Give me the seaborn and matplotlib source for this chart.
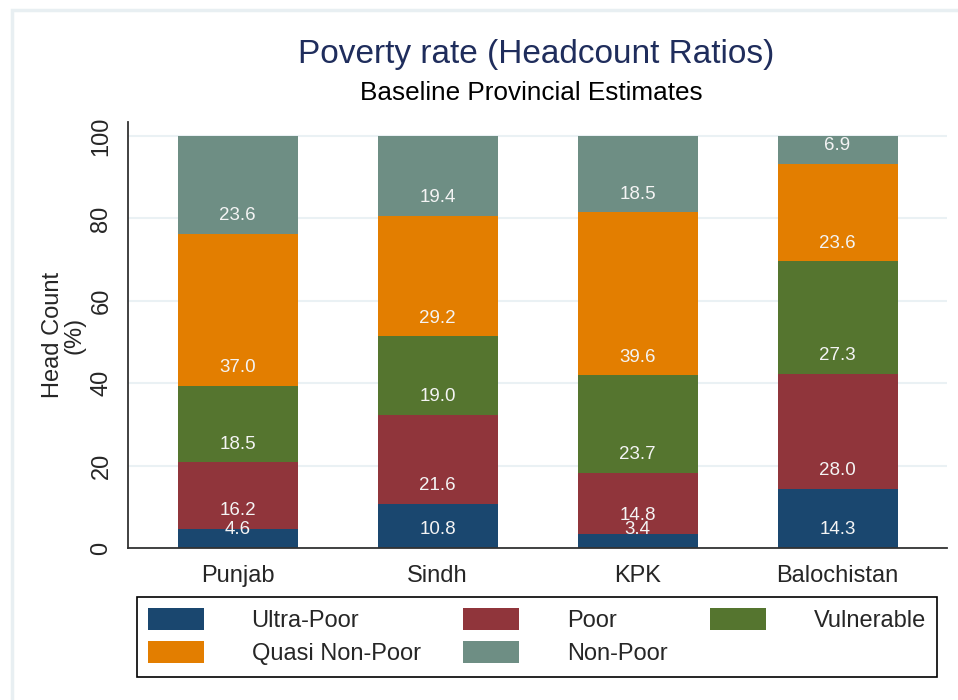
import matplotlib
matplotlib.use("Agg")
import matplotlib.pyplot as plt
import seaborn as sns
import numpy as np
from matplotlib.patches import Patch, Rectangle

provinces = ['Punjab', 'Sindh', 'KPK', 'Balochistan']
groups = ['Ultra-Poor', 'Poor', 'Vulnerable', 'Quasi Non-Poor', 'Non-Poor']
ultra_poor = [4.6, 10.8, 3.4, 14.3]
poor = [16.2, 21.6, 14.8, 28.0]
vulnerable = [18.5, 19.0, 23.7, 27.3]
quasi_non_poor = [37.0, 29.2, 39.6, 23.6]
non_poor = [23.6, 19.4, 18.5, 6.9]
colors = ['#1a476f', '#90353b', '#55752f', '#e37e00', '#6e8e84']

series = [ultra_poor, poor, vulnerable, quasi_non_poor, non_poor]
cum = np.cumsum(np.array(series), axis=0)

sns.set_style('white')
plt.rcParams['font.family'] = ['Liberation Sans', 'DejaVu Sans']

fig = plt.figure(figsize=(9.58, 7), dpi=100)
ax = fig.add_axes([128/958, 1 - 548/700, (947-128)/958, (548-122)/700])

# stacked bars: draw tallest cumulative first, shorter ones on top
for i in range(len(groups) - 1, -1, -1):
    sns.barplot(x=provinces, y=cum[i], color=colors[i], width=0.6,
                saturation=1, errorbar=None, linewidth=0, ax=ax, zorder=2)

# value labels near the bottom of each segment
for i, vals in enumerate(series):
    base = cum[i] - np.array(vals)
    for j, v in enumerate(vals):
        ax.text(j, base[j] + 4.4, f'{v:.1f}', ha='center', va='center',
                color='#f4f4f4', fontsize=13.5, zorder=3)

ax.set_xlim(-0.5475, 3.5475)
ax.set_ylim(0, 103.4)
ax.set_yticks([0, 20, 40, 60, 80, 100])
ax.set_yticklabels(['0', '20', '40', '60', '80', '100'], rotation=90, va='center', fontsize=17)
ax.tick_params(axis='y', length=7.2, width=1.2, pad=4, color='#333333')
ax.tick_params(axis='x', length=0, pad=12, labelsize=17)
ax.yaxis.grid(True, color='#eaf1f4', linewidth=1.5, zorder=0)
ax.set_axisbelow(True)
for s in ['top', 'right']:
    ax.spines[s].set_visible(False)
for s in ['left', 'bottom']:
    ax.spines[s].set_color('#333333')
    ax.spines[s].set_linewidth(1.3)

ax.set_xlabel('')
ax.set_ylabel('Head Count\n(%)', fontsize=17, linespacing=0.95)
ax.yaxis.set_label_coords(-0.052, 0.5)

fig.text(536/958, 1 - 55/700, 'Poverty rate (Headcount Ratios)', ha='center', va='center',
         fontsize=24, color='#1f2d5c')
fig.text(531/958, 1 - 93/700, 'Baseline Provincial Estimates', ha='center', va='center',
         fontsize=18.8, color='black')

# legend, row-wise order like the original
handles = [Patch(facecolor=c, edgecolor='none', label=g) for g, c in zip(groups, colors)]
order = [0, 3, 1, 4, 2]
leg = fig.legend([handles[k] for k in order], [groups[k] for k in order], ncol=3,
                 loc='upper left', mode='expand',
                 bbox_to_anchor=(137/958, 1 - 674/700, (937-137)/958, (674-597)/700),
                 borderaxespad=0, fontsize=17, handlelength=2.37, handleheight=1.06,
                 handletextpad=2.0, labelspacing=0.38, borderpad=0.48,
                 fancybox=False, framealpha=1, edgecolor='black')
leg.get_frame().set_linewidth(1.2)

fig.patches.append(Rectangle((12/958, -0.1), 1.2, 1.1 - 10/700, transform=fig.transFigure,
                             facecolor='none', edgecolor='#e8eff2', linewidth=2.5))

plt.savefig('out.png', dpi=100)
